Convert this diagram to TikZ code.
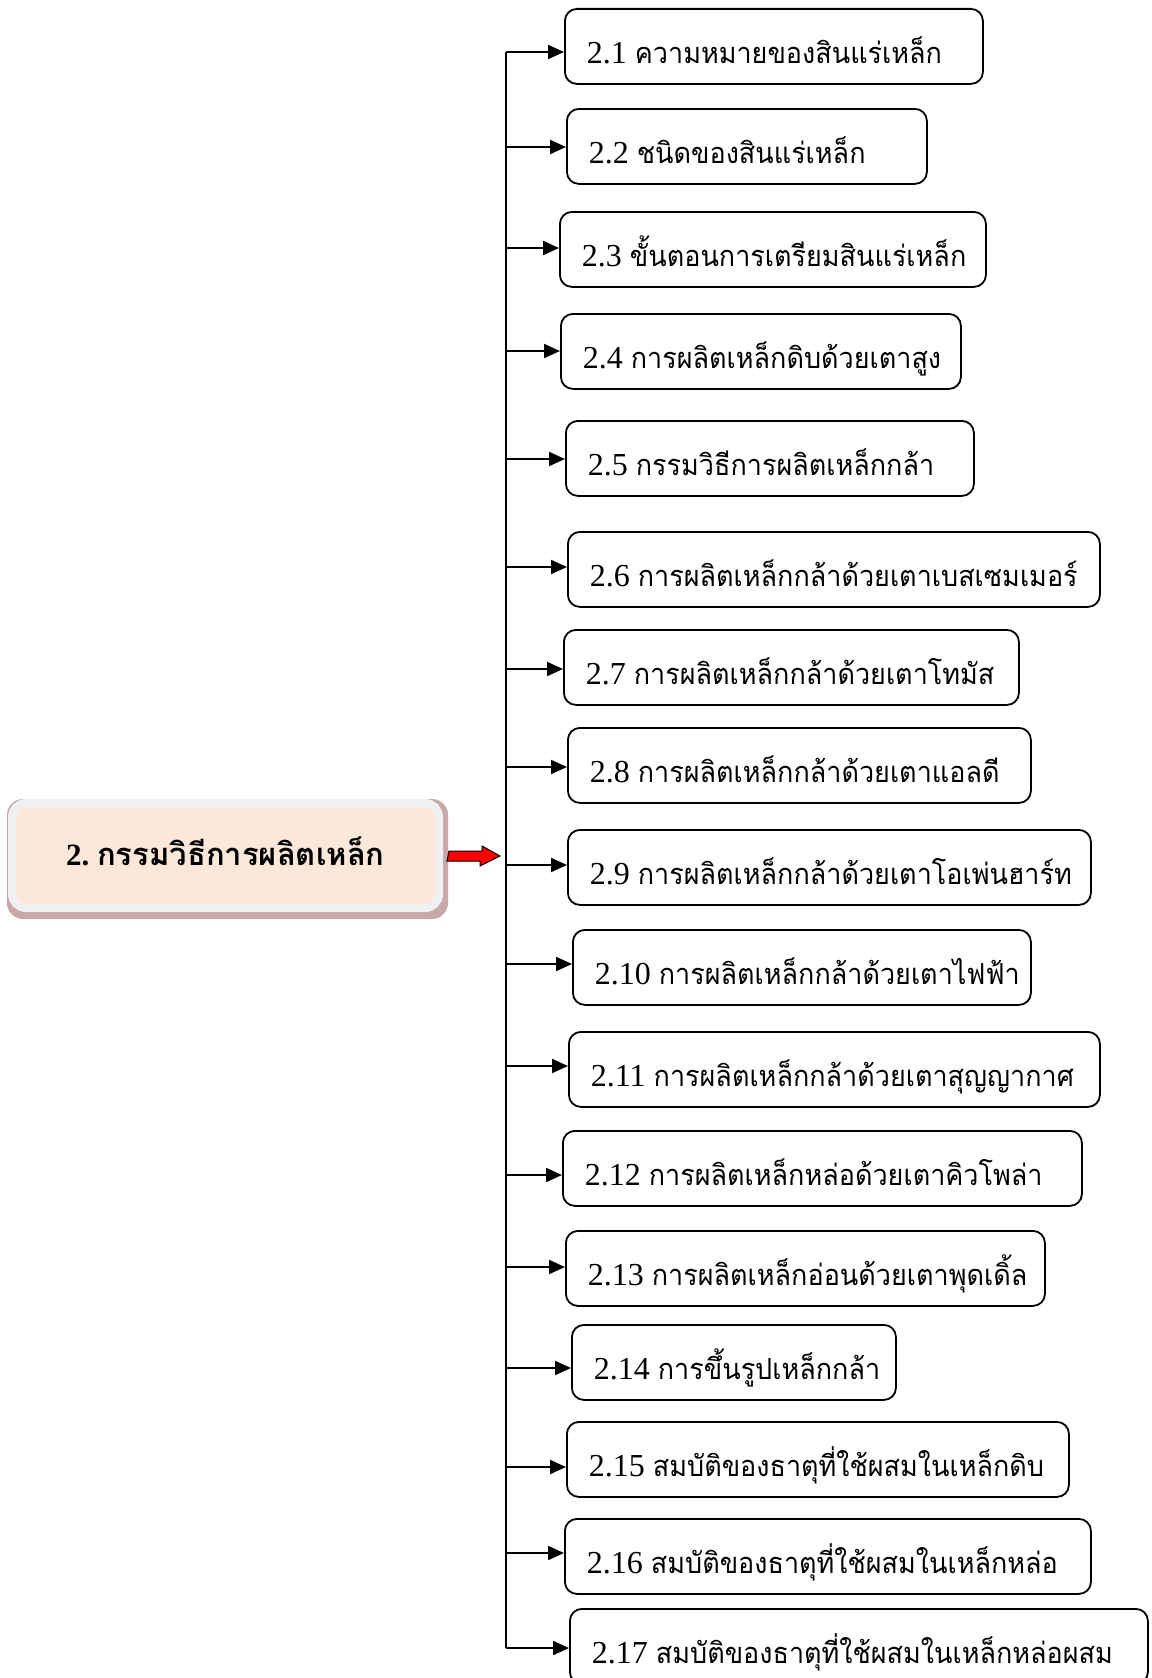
\documentclass[tikz,border=0pt]{standalone}
\usepackage{fontspec}
\usepackage{graphicx}
\setmainfont{Liberation Serif}
\newfontfamily\thaifont[Script=Thai]{Loma}
\usetikzlibrary{arrows.meta,backgrounds}
\definecolor{peach}{RGB}{251,232,218}
\definecolor{rimgray}{RGB}{240,240,240}
\definecolor{shadowbrown}{RGB}{200,168,168}
\newcommand\thaitxt[1]{\scalebox{0.93}[1]{\fontsize{29}{36}\thaifont #1}}
\newcommand\bl[3]{\makebox[#1pt][l]{{\rmfamily #2}~\thaitxt{#3}}}
\begin{document}
\begin{tikzpicture}[x=1pt,y=-1pt,
  box/.style={draw, line width=1.8pt, rounded corners=12pt, anchor=north west,
    minimum height=75pt, inner xsep=22pt, inner ysep=0pt,
    text height=34pt, text depth=0pt, font=\fontsize{32}{38}\selectfont},
  trunk/.style={line width=2pt},
  arr/.style={line width=2pt, -{Triangle[length=16pt,width=14pt]}},
  mainbox/.style={fill=peach, draw=rimgray, line width=8pt, rounded corners=14pt,
    minimum width=427pt, minimum height=105pt, inner sep=0pt,
    text height=25pt, text depth=5pt, font=\fontsize{31}{37}\selectfont\bfseries},
  redarr/.style={fill=red, draw=black, line width=1pt, line join=miter}]
\useasboundingbox (0,0) rectangle (1151,1678);
\clip (0,0) rectangle (1151,1678);

% main node
\node[mainbox] (main) at (225.5,855.5) {{\rmfamily 2.}~{\thaifont กรรมวิธีการผลิตเหล็ก}};
\begin{scope}[on background layer]
  \fill[shadowbrown, rounded corners=16pt] ([shift={(-1,0)}]main.north west) rectangle ([shift={(5,7)}]main.south east);
\end{scope}

% boxes
\node[box] (b1)  at (564,8)    {\bl{374}{2.1}{ความหมายของสินแร่เหล็ก}};
\node[box] (b2)  at (566,108)  {\bl{316}{2.2}{ชนิดของสินแร่เหล็ก}};
\node[box] (b3)  at (559,211)  {\bl{382}{2.3}{ขั้นตอนการเตรียมสินแร่เหล็ก}};
\node[box] (b4)  at (560,313)  {\bl{356}{2.4}{การผลิตเหล็กดิบด้วยเตาสูง}};
\node[box] (b5)  at (565,420)  {\bl{364}{2.5}{กรรมวิธีการผลิตเหล็กกล้า}};
\node[box] (b6)  at (567,531)  {\bl{488}{2.6}{การผลิตเหล็กกล้าด้วยเตาเบสเซมเมอร์}};
\node[box] (b7)  at (563,629)  {\bl{411}{2.7}{การผลิตเหล็กกล้าด้วยเตาโทมัส}};
\node[box] (b8)  at (567,727)  {\bl{419}{2.8}{การผลิตเหล็กกล้าด้วยเตาแอลดี}};
\node[box] (b9)  at (567,829)  {\bl{479}{2.9}{การผลิตเหล็กกล้าด้วยเตาโอเพ่นฮาร์ท}};
\node[box] (b10) at (572,929)  {\bl{414}{2.10}{การผลิตเหล็กกล้าด้วยเตาไฟฟ้า}};
\node[box] (b11) at (568,1031) {\bl{487}{2.11}{การผลิตเหล็กกล้าด้วยเตาสุญญากาศ}};
\node[box] (b12) at (562,1130) {\bl{475}{2.12}{การผลิตเหล็กหล่อด้วยเตาคิวโพล่า}};
\node[box] (b13) at (565,1230) {\bl{435}{2.13}{การผลิตเหล็กอ่อนด้วยเตาพุดเดิ้ล}};
\node[box] (b14) at (571,1324) {\bl{280}{2.14}{การขึ้นรูปเหล็กกล้า}};
\node[box] (b15) at (566,1421) {\bl{458}{2.15}{สมบัติของธาตุที่ใช้ผสมในเหล็กดิบ}};
\node[box] (b16) at (564,1518) {\bl{482}{2.16}{สมบัติของธาตุที่ใช้ผสมในเหล็กหล่อ}};
\node[box] (b17) at (569,1608) {\bl{534}{2.17}{สมบัติของธาตุที่ใช้ผสมในเหล็กหล่อผสม}};

% trunk points
\coordinate (t1)  at (506,52);
\coordinate (t2)  at (506,147);
\coordinate (t3)  at (506,248);
\coordinate (t4)  at (506,351);
\coordinate (t5)  at (506,459);
\coordinate (t6)  at (506,567);
\coordinate (t7)  at (506,669);
\coordinate (t8)  at (506,767);
\coordinate (t9)  at (506,865);
\coordinate (t10) at (506,964);
\coordinate (t11) at (506,1066);
\coordinate (t12) at (506,1175);
\coordinate (t13) at (506,1267);
\coordinate (t14) at (506,1368);
\coordinate (t15) at (506,1467);
\coordinate (t16) at (506,1553);
\coordinate (t17) at (506,1648);
\coordinate (hub) at (500,856);

\draw[trunk] (t1) -- (t17);
\foreach \i in {1,...,17} {
  \draw[arr] (t\i) -- (t\i -| b\i.west);
}

% red block arrow from main node to trunk
\draw[redarr] (main.east |- hub) ++(6,-5) -- ++(33,0) -- ++(0,-5) -- (hub) -- ++(-20,10) -- ++(0,-5) -- ++(-33,0) -- cycle;
\end{tikzpicture}
\end{document}
